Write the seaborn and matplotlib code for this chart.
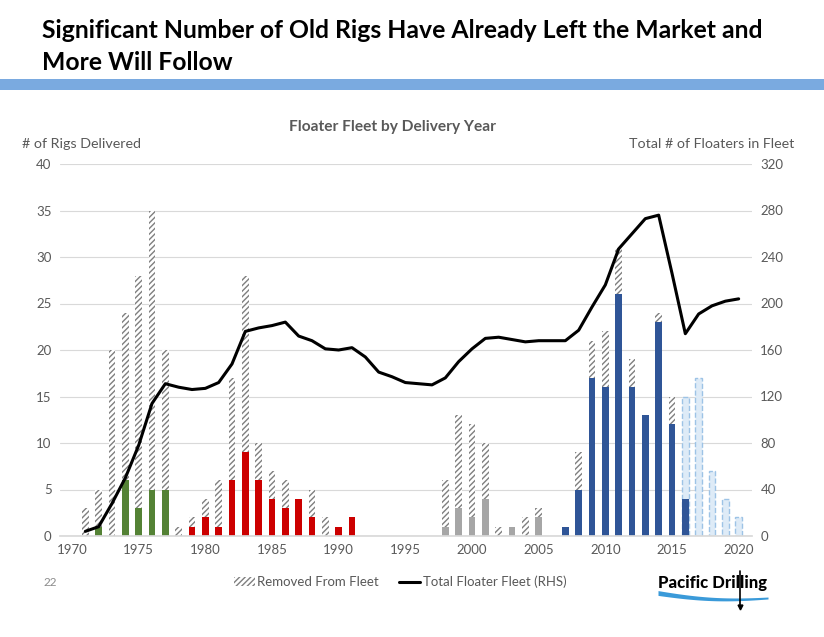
import numpy as np
import pandas as pd
import matplotlib
matplotlib.use("Agg")
import matplotlib.pyplot as plt
import seaborn as sns
from matplotlib.patches import Patch, Rectangle
from matplotlib.lines import Line2D

# --- data ---
years = list(range(1971, 2021))
in_fleet = [0, 1, 0, 6, 3, 5, 5,                       # 1971-1977
            0, 1, 2, 1, 6, 9, 6, 4, 3, 4, 2, 0, 1, 2,  # 1978-1991
            0, 0, 0, 0, 0, 0,                          # 1992-1997
            1, 3, 2, 4, 0, 1, 0, 2, 0,                 # 1998-2006
            1, 5, 17, 16, 26, 16, 13, 23, 12, 4,       # 2007-2016
            0, 0, 0, 0]                                # 2017-2020
removed = [3, 4, 20, 18, 25, 30, 15,
           1, 1, 2, 5, 11, 19, 4, 3, 3, 0, 3, 2, 0, 0,
           0, 0, 0, 0, 0, 0,
           5, 10, 10, 6, 1, 0, 2, 1, 0,
           0, 4, 4, 6, 5, 3, 0, 1, 3, 0,
           0, 0, 0, 0]
order_years = [2016, 2017, 2018, 2019, 2020]
order_book = [15, 17, 7, 4, 2]
fleet_years = list(range(1971, 2021))
fleet_total = [4, 8, 28, 50, 78, 114, 131, 128, 126, 127,
               132, 148, 176, 179, 181, 184, 172, 168, 161, 160,
               162, 154, 141, 137, 132, 131, 130, 136, 150, 161,
               170, 171, 169, 167, 168, 168, 168, 177, 197, 216,
               247, 260, 273, 276, 226, 174, 191, 198, 202, 204]

df = pd.DataFrame({"year": years, "in_fleet": in_fleet, "removed": removed})
df["total"] = df["in_fleet"] + df["removed"]
df["era"] = np.select([df.year <= 1977, df.year <= 1991, df.year <= 2006],
                      ["a", "b", "c"], "d")
palette = {"a": "#548235", "b": "#cc0000", "c": "#a6a6a6", "d": "#2f5597"}

sns.set_theme(style="white")
plt.rcParams["font.family"] = ["Lato", "DejaVu Sans"]
plt.rcParams["hatch.linewidth"] = 1.0
TXT = "#595959"

fig = plt.figure(figsize=(8.24, 6.37), dpi=100)
ax = fig.add_axes([60 / 824, 1 - 536 / 637, 692 / 824, 372 / 637])

# hatched = everything delivered that year (removed part shows above)
n0 = len(ax.patches)
sns.barplot(x=df.year, y=df.total, native_scale=True, width=0.5, ax=ax,
            color="white", saturation=1, linewidth=0, edgecolor="#7f7f7f")
for p in ax.patches[n0:]:
    p.set_hatch("//////")

# order book (future deliveries)
sns.barplot(x=order_years, y=order_book, native_scale=True, width=0.5, ax=ax,
            color="#deebf7", saturation=1, edgecolor="#9dc3e6",
            linewidth=1, linestyle="--")

# still in fleet, coloured by era
sns.barplot(data=df, x="year", y="in_fleet", hue="era", palette=palette,
            native_scale=True, width=0.5, dodge=False, saturation=1,
            linewidth=0, ax=ax, legend=False)

ax.set_xlim(1969.1, 2021.0)
ax.set_ylim(0, 40)
ax.set_xticks(range(1970, 2021, 5))
ax.set_yticks(range(0, 41, 5))
ax.yaxis.grid(True, color="#d9d9d9", lw=0.8)
ax.xaxis.grid(False)
ax.set_axisbelow(True)
ax.set_xlabel("")
ax.set_ylabel("")
for s in ["top", "left", "right"]:
    ax.spines[s].set_visible(False)
ax.spines["bottom"].set_color("#d9d9d9")
ax.tick_params(length=0, labelsize=9.5, labelcolor=TXT, pad=6)

ax2 = ax.twinx()
sns.lineplot(x=fleet_years, y=fleet_total, color="black", lw=2.2, ax=ax2)
ax2.set_ylim(0, 320)
ax2.set_yticks(range(0, 321, 40))
ax2.set_ylabel("")
for s in ax2.spines.values():
    s.set_visible(False)
ax2.tick_params(length=0, labelsize=9.5, labelcolor=TXT, pad=6)

# --- page decorations in pixel coordinates ---
ov = fig.add_axes([0, 0, 1, 1], zorder=-1)
ov.axis("off")

ov.text(42, 31, "Significant Number of Old Rigs Have Already Left the Market and",
        fontsize=17.8, fontweight="bold", color="black", va="center")
ov.text(42, 63, "More Will Follow", fontsize=17.8, fontweight="bold",
        color="black", va="center")
ov.add_patch(Rectangle((0, 79), 824, 11, color="#7aaae0", lw=0))
grad = np.linspace(0, 1, 200).reshape(1, -1)
ov.imshow(grad, extent=(645, 824, 90, 79), aspect="auto",
          cmap=matplotlib.colors.LinearSegmentedColormap.from_list(
              "b", ["#4f7cba", "#8db7e6", "#a9c9ee"]))
ov.set_xlim(0, 824)
ov.set_ylim(637, 0)

ov.text(393, 127, "Floater Fleet by Delivery Year", fontsize=11.2,
        fontweight="bold", color=TXT, ha="center", va="center")
ov.text(22, 144, "# of Rigs Delivered", fontsize=10.3, color=TXT, va="center")
ov.text(794, 144, "Total # of Floaters in Fleet", fontsize=10.3, color=TXT,
        va="center", ha="right")
ov.text(44, 582, "22", fontsize=8.5, color="#8c8c8c", va="center")

handles = [Patch(facecolor="white", edgecolor="#7f7f7f", hatch="//////", lw=0),
           Line2D([], [], color="black", lw=2.2)]
fig.legend(handles, ["Removed From Fleet", "Total Floater Fleet (RHS)"],
           loc="center", bbox_to_anchor=(400 / 824, 1 - 582 / 637), ncol=2,
           frameon=False, fontsize=9.5, labelcolor=TXT, handlelength=1.6,
           handletextpad=0.2, columnspacing=1.5)

# logo
ov.text(713, 583, "Pacific Drilling", fontsize=12, fontweight="black",
        color="black", ha="center", va="center")
sx = np.linspace(658, 768, 80)
t = (sx - 658) / 110
mid = 593 + 9 * t - 4 * t ** 2 + 2.5 * np.sin(t * np.pi)
thick = 2.4 * (1 - 0.6 * t)
ov.fill_between(sx, mid - thick, mid + thick, color="#3a9ad9", lw=0)
ov.plot([740, 740], [571, 606], color="black", lw=1.2)
ov.plot([740], [607], marker="v", color="black", ms=3.5)

fig.savefig("out.png", dpi=100)
